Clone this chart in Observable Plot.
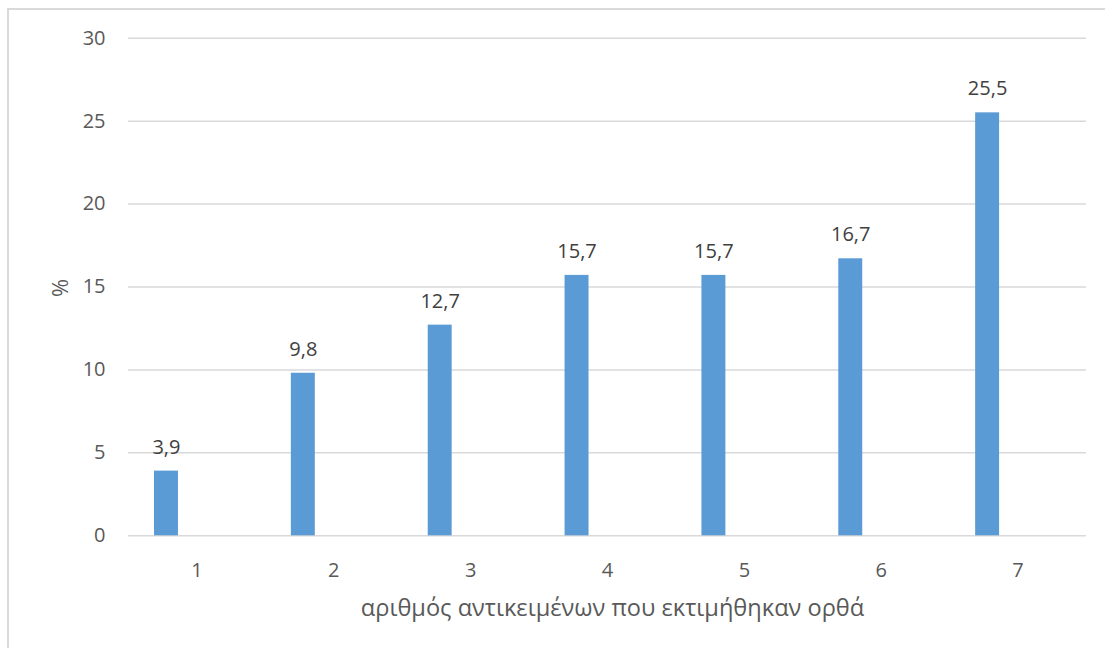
<!DOCTYPE html>
<html>
<head>
<meta charset="utf-8">
<script src="https://cdn.jsdelivr.net/npm/d3@7"></script>
<script src="https://cdn.jsdelivr.net/npm/@observablehq/plot@0.6"></script>
<style>
  html, body { margin: 0; padding: 0; background: #fff; overflow: hidden; }
  #wrap { position: relative; width: 1105px; height: 648px; }
  #border { position: absolute; left: 7px; top: 8px; width: 1200px; height: 700px;
            border-left: 2px solid #d9d9d9; border-top: 2px solid #d9d9d9; box-sizing: border-box; }
  #chart { position: absolute; left: 0; top: 0; }
</style>
</head>
<body>
<div id="wrap"><div id="border"></div><div id="chart"></div></div>
<script>
const categories = ["1", "2", "3", "4", "5", "6", "7"];
const values = [3.9, 9.8, 12.7, 15.7, 15.7, 16.7, 25.5];
const yTicks = [0, 5, 10, 15, 20, 25, 30];
const xTitle = "αριθμός αντικειμένων που εκτιμήθηκαν ορθά";
const yTitle = "%";

const data = categories.map((c, i) => ({cat: c, value: values[i], label: String(values[i]).replace(".", ",")}));

const font = "'Open Sans', sans-serif";
const chart = Plot.plot({
  width: 1105,
  height: 648,
  marginLeft: 128,
  marginRight: 19,
  marginTop: 37.7,
  marginBottom: 112.7,
  style: {fontFamily: font, fontSize: "20px", color: "#595959", background: "transparent"},
  x: {type: "band", domain: categories, padding: 0, round: false},
  y: {domain: [0, 30]},
  marks: [
    Plot.ruleY(yTicks, {stroke: "#d9d9d9", strokeWidth: 1.5}),
    Plot.barY(data, {x: "cat", y: "value", fill: "#5b9bd5", insetLeft: 26, insetRight: 86.9}),
    Plot.text(data, {x: "cat", y: "value", text: "label", dx: -30.5, dy: -24, fill: "#404040", fontSize: 20, lineAnchor: "middle"}),
    Plot.axisY(yTicks, {tickSize: 0, tickPadding: 23, label: null, fontSize: 20, fill: "#595959"}),
    Plot.axisX({tickSize: 0, tickPadding: 27, label: null, fontSize: 20, fill: "#595959"}),
    Plot.text([xTitle], {frameAnchor: "bottom", dx: 5, dy: 73, fill: "#595959", fontSize: 23.6, lineAnchor: "middle"}),
    Plot.text([yTitle], {frameAnchor: "left", dx: -68, dy: 10, rotate: -90, fill: "#595959", fontSize: 22, lineAnchor: "middle"})
  ]
});
document.getElementById("chart").appendChild(chart);
</script>
</body>
</html>
